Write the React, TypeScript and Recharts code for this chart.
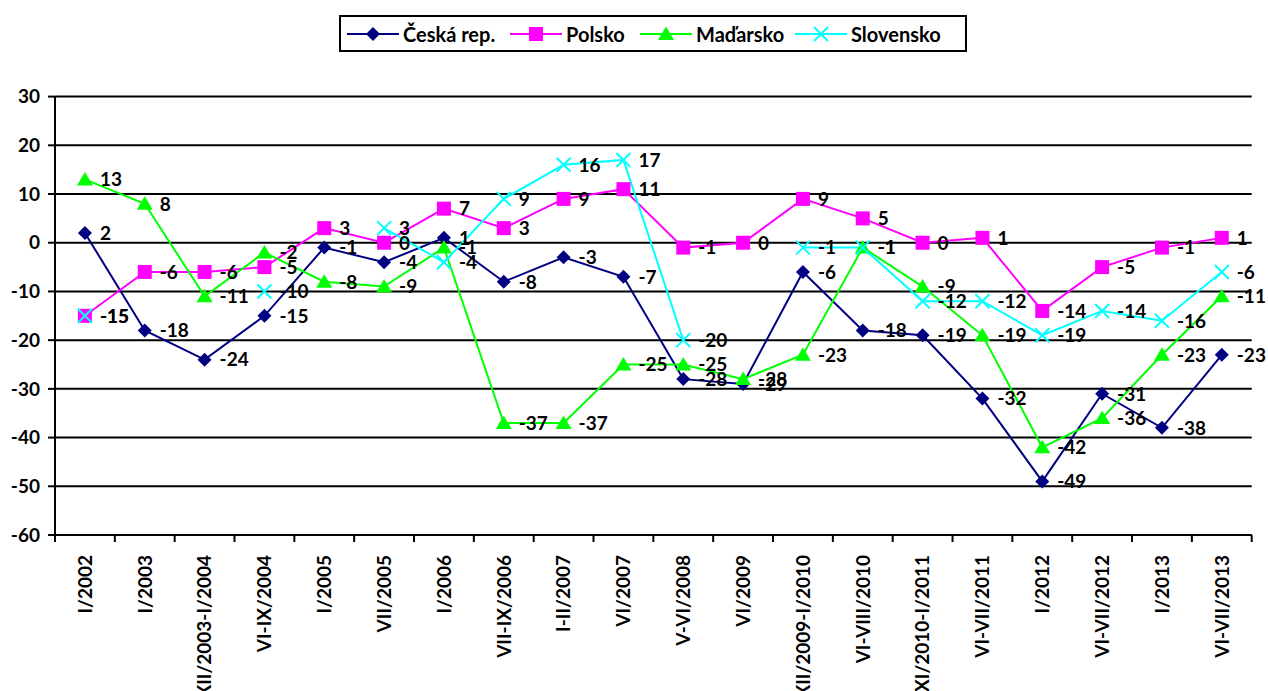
import { CartesianGrid, LabelList, Line, LineChart, XAxis, YAxis } from 'recharts';

const categories = [
  'I/2002', 'I/2003', 'XII/2003-I/2004', 'VI-IX/2004', 'I/2005', 'VII/2005', 'I/2006',
  'VII-IX/2006', 'I-II/2007', 'VI/2007', 'V-VI/2008', 'VI/2009', 'XII/2009-I/2010',
  'VI-VIII/2010', 'XI/2010-I/2011', 'VI-VII/2011', 'I/2012', 'VI-VII/2012', 'I/2013', 'VI-VII/2013',
];
const ceska = [2, -18, -24, -15, -1, -4, 1, -8, -3, -7, -28, -29, -6, -18, -19, -32, -49, -31, -38, -23];
const polsko = [-15, -6, -6, -5, 3, 0, 7, 3, 9, 11, -1, 0, 9, 5, 0, 1, -14, -5, -1, 1];
const madarsko = [13, 8, -11, -2, -8, -9, -1, -37, -37, -25, -25, -28, -23, -1, -9, -19, -42, -36, -23, -11];
const slovensko = [-15, null, null, -10, null, 3, -4, 9, 16, 17, -20, null, -1, -1, -12, -12, -19, -14, -16, -6];
const yTicks = [-60, -50, -40, -30, -20, -10, 0, 10, 20, 30];

const data = categories.map((period, i) => ({
  period,
  ceska: ceska[i],
  polsko: polsko[i],
  madarsko: madarsko[i],
  slovensko: slovensko[i],
}));

const FONT = 'Lato, "Noto Sans", sans-serif';
const CHART_W = 1260;
const CHART_H = 683;
const Y_W = 47;
const MARGIN_RIGHT = 16.3;
const BAND = (CHART_W - Y_W - MARGIN_RIGHT) / categories.length;

const NAVY = '#000080';
const MAGENTA = '#ff00ff';
const GREEN = '#00ff00';
const CYAN = '#00ffff';

type Shape = 'diamond' | 'square' | 'triangle' | 'cross';

function Marker({ cx, cy, shape, color }: { cx: number; cy: number; shape: Shape; color: string }) {
  if (shape === 'diamond') {
    return <path d={`M${cx},${cy - 7}L${cx + 7},${cy}L${cx},${cy + 7}L${cx - 7},${cy}Z`} fill={color} />;
  }
  if (shape === 'square') {
    return <rect x={cx - 7} y={cy - 7} width={14} height={14} fill={color} />;
  }
  if (shape === 'triangle') {
    return <path d={`M${cx},${cy - 7.5}L${cx + 8},${cy + 6}L${cx - 8},${cy + 6}Z`} fill={color} />;
  }
  return (
    <g stroke={color} strokeWidth={2}>
      <line x1={cx - 7} y1={cy - 7} x2={cx + 7} y2={cy + 7} />
      <line x1={cx - 7} y1={cy + 7} x2={cx + 7} y2={cy - 7} />
    </g>
  );
}

const makeDot = (shape: Shape, color: string) => (props: any) => {
  const { cx, cy, index, value } = props;
  if (cx == null || cy == null || value == null) return <g key={`d-${index}`} />;
  return (
    <g key={`d-${index}`}>
      <Marker cx={cx} cy={cy} shape={shape} color={color} />
    </g>
  );
};

const renderLabel = (props: any) => {
  const vb = props.viewBox || {};
  const x = props.x ?? vb.x;
  const y = props.y ?? vb.y;
  const { value } = props;
  if (value == null || x == null || y == null) return null;
  return (
    <text x={x + 15} y={y} dy="0.36em" fontSize={19} fontWeight={700} fill="#000" fontFamily={FONT}>
      {value}
    </text>
  );
};

const XTick = ({ x, y, payload, index }: any) => {
  const half = BAND / 2;
  return (
    <g>
      <line x1={x - half} x2={x - half} y1={y} y2={y + 7} stroke="#000" strokeWidth={2} />
      {index === categories.length - 1 && (
        <line x1={x + half} x2={x + half} y1={y} y2={y + 7} stroke="#000" strokeWidth={2} />
      )}
      <text
        transform={`translate(${x},${y + 20}) rotate(-90)`}
        textAnchor="end"
        dy="0.36em"
        fontSize={19}
        fontWeight={700}
        fill="#000"
        fontFamily={FONT}
      >
        {payload.value}
      </text>
    </g>
  );
};

const legendItems: { name: string; color: string; shape: Shape; left: number }[] = [
  { name: 'Česká rep.', color: NAVY, shape: 'diamond', left: 8 },
  { name: 'Polsko', color: MAGENTA, shape: 'square', left: 171 },
  { name: 'Maďarsko', color: GREEN, shape: 'triangle', left: 301 },
  { name: 'Slovensko', color: CYAN, shape: 'cross', left: 456 },
];

function ChartLegend() {
  return (
    <div
      style={{
        position: 'absolute',
        left: 331,
        top: 7,
        width: 628,
        height: 37,
        boxSizing: 'border-box',
        border: '2px solid #000',
        background: '#fff',
        fontFamily: FONT,
        fontWeight: 700,
        fontSize: 20,
      }}
    >
      {legendItems.map((it) => (
        <div
          key={it.name}
          style={{ position: 'absolute', left: it.left - 2, top: 0, height: 33, display: 'flex', alignItems: 'center' }}
        >
          <svg width={52} height={20}>
            <line x1={0} x2={52} y1={10} y2={10} stroke={it.color} strokeWidth={2} />
            <Marker cx={26} cy={10} shape={it.shape} color={it.color} />
          </svg>
          <span style={{ marginLeft: 4, whiteSpace: 'nowrap' }}>{it.name}</span>
        </div>
      ))}
    </div>
  );
}

export default function App() {
  return (
    <div style={{ position: 'absolute', left: 8, top: 8, width: CHART_W, height: CHART_H, background: '#fff' }}>
      <LineChart
        width={CHART_W}
        height={CHART_H}
        data={data}
        margin={{ top: 88.6, right: MARGIN_RIGHT, left: 0, bottom: 0 }}
      >
        <CartesianGrid horizontal vertical={false} stroke="#000" strokeWidth={2} />
        <XAxis
          dataKey="period"
          scale="band"
          interval={0}
          height={156}
          tickLine={false}
          tickSize={0}
          tickMargin={0}
          axisLine={{ stroke: '#000', strokeWidth: 2 }}
          tick={<XTick />}
        />
        <YAxis
          width={Y_W}
          domain={[-60, 30]}
          ticks={yTicks}
          interval={0}
          tickSize={7}
          tickMargin={8}
          axisLine={{ stroke: '#000', strokeWidth: 2 }}
          tickLine={{ stroke: '#000', strokeWidth: 2 }}
          tick={{ fill: '#000', fontSize: 19, fontWeight: 700, fontFamily: FONT }}
        />
        <Line dataKey="ceska" stroke={NAVY} strokeWidth={2} dot={makeDot('diamond', NAVY)} activeDot={false} isAnimationActive={false}>
          <LabelList dataKey="ceska" content={renderLabel} />
        </Line>
        <Line dataKey="polsko" stroke={MAGENTA} strokeWidth={2} dot={makeDot('square', MAGENTA)} activeDot={false} isAnimationActive={false}>
          <LabelList dataKey="polsko" content={renderLabel} />
        </Line>
        <Line dataKey="madarsko" stroke={GREEN} strokeWidth={2} dot={makeDot('triangle', GREEN)} activeDot={false} isAnimationActive={false}>
          <LabelList dataKey="madarsko" content={renderLabel} />
        </Line>
        <Line dataKey="slovensko" stroke={CYAN} strokeWidth={2} dot={makeDot('cross', CYAN)} activeDot={false} isAnimationActive={false}>
          <LabelList dataKey="slovensko" content={renderLabel} />
        </Line>
      </LineChart>
      <ChartLegend />
    </div>
  );
}
